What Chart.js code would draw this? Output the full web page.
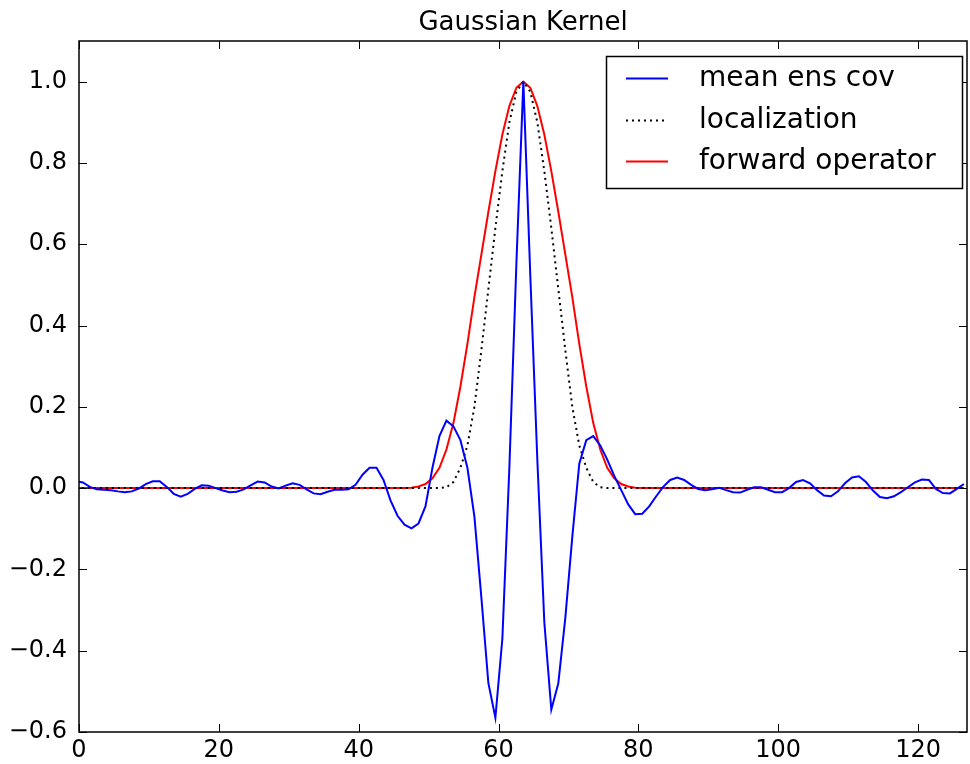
<!DOCTYPE html>
<html>
<head>
<meta charset="utf-8">
<script src="https://cdn.jsdelivr.net/npm/chart.js@4"></script>
<style>
  html, body { margin: 0; padding: 0; background: #fff; }
  #wrap { width: 970px; height: 764px; }
</style>
</head>
<body>
<div id="wrap"><canvas id="kernelChart" width="970" height="764"></canvas></div>
<script>
// values, one per grid index 0..127
const meanEnsCov = [
  0.017, 0.014, 0.003, -0.003, -0.004, -0.005, -0.008, -0.010, -0.008, -0.001,
  0.010, 0.017, 0.017, 0.003, -0.014, -0.021, -0.014, -0.002, 0.007, 0.006,
  0.000, -0.006, -0.010, -0.009, -0.003, 0.007, 0.016, 0.014, 0.004, -0.001,
  0.006, 0.012, 0.008, -0.003, -0.013, -0.015, -0.009, -0.004, -0.004, -0.003,
  0.008, 0.033, 0.050, 0.050, 0.020, -0.030, -0.068, -0.090, -0.099, -0.087,
  -0.045, 0.050, 0.128, 0.166, 0.152, 0.118, 0.050, -0.070, -0.270, -0.480,
  -0.565, -0.370, 0.050, 0.550, 1.000, 0.520, 0.070, -0.330, -0.545, -0.480,
  -0.320, -0.120, 0.060, 0.118, 0.128, 0.105, 0.070, 0.030, -0.005, -0.040,
  -0.064, -0.063, -0.045, -0.020, 0.003, 0.020, 0.026, 0.020, 0.008, -0.002,
  -0.005, -0.003, 0.001, -0.005, -0.010, -0.011, -0.004, 0.002, 0.002, -0.004,
  -0.010, -0.010, 0.000, 0.015, 0.020, 0.012, -0.005, -0.018, -0.020, -0.008,
  0.012, 0.026, 0.029, 0.015, -0.006, -0.022, -0.025, -0.020, -0.010, 0.002,
  0.014, 0.021, 0.020, -0.002, -0.012, -0.013, -0.002, 0.010
];

// localization and forward operator are only non-zero near the centre (index 64),
// listed by distance from it
const centreIndex = 64;
const localizationHalf = [1.0, 0.975, 0.90, 0.78, 0.64, 0.49, 0.34, 0.20, 0.105, 0.05, 0.015, 0.002, 0.0];
const forwardHalf = [1.0, 0.985, 0.94, 0.87, 0.78, 0.68, 0.575, 0.47, 0.355, 0.25, 0.16, 0.095, 0.05, 0.024, 0.01, 0.004, 0.001, 0.0];

const xTicks = [0, 20, 40, 60, 80, 100, 120];
const yTicks = [-0.6, -0.4, -0.2, 0.0, 0.2, 0.4, 0.6, 0.8, 1.0];
const seriesNames = ["mean ens cov", "localization", "forward operator"];

// sample i sits at x = i + gridStart on the axis (peak reads at ~63.55)
const gridStart = -0.45;

function spread(half) {
  return meanEnsCov.map((_, i) => {
    const d = Math.abs(i - centreIndex);
    return { x: i + gridStart, y: d < half.length ? half[d] : 0 };
  });
}

const blueData = meanEnsCov.map((v, i) => ({ x: i + gridStart, y: v }));
const locData = spread(localizationHalf);
const fwdData = spread(forwardHalf);

const FONT = "'DejaVu Sans', sans-serif";

// frame, inward ticks on all four sides, title and boxed legend
const matplotlibLook = {
  id: 'matplotlibLook',
  afterDatasetsDraw(chart) {
    const { ctx, chartArea: a, scales } = chart;
    ctx.save();
    ctx.strokeStyle = '#000';
    ctx.lineWidth = 1.5;
    ctx.strokeRect(a.left, a.top, a.right - a.left, a.bottom - a.top);

    ctx.lineWidth = 1;
    ctx.beginPath();
    xTicks.forEach(t => {
      const px = Math.round(scales.x.getPixelForValue(t)) + 0.5;
      ctx.moveTo(px, a.bottom); ctx.lineTo(px, a.bottom - 8);
      ctx.moveTo(px, a.top); ctx.lineTo(px, a.top + 8);
    });
    yTicks.forEach(t => {
      const py = Math.round(scales.y.getPixelForValue(t)) + 0.5;
      ctx.moveTo(a.left, py); ctx.lineTo(a.left + 8, py);
      ctx.moveTo(a.right, py); ctx.lineTo(a.right - 8, py);
    });
    ctx.stroke();

    // title
    ctx.fillStyle = '#000';
    ctx.font = '26px ' + FONT;
    ctx.textAlign = 'center';
    ctx.textBaseline = 'alphabetic';
    ctx.fillText('Gaussian Kernel', (a.left + a.right) / 2, 30);

    // legend
    const box = { x: 606.5, y: 56.5, w: 356, h: 132 };
    ctx.fillStyle = '#fff';
    ctx.fillRect(box.x, box.y, box.w, box.h);
    ctx.strokeStyle = '#000';
    ctx.lineWidth = 1.5;
    ctx.strokeRect(box.x, box.y, box.w, box.h);
    const rows = [78, 120, 161];
    chart.data.datasets.forEach((ds, k) => {
      ctx.beginPath();
      ctx.strokeStyle = ds.borderColor;
      ctx.lineWidth = ds.borderWidth;
      ctx.setLineDash(ds.borderDash || []);
      ctx.moveTo(626, rows[k] + 0.5);
      ctx.lineTo(668, rows[k] + 0.5);
      ctx.stroke();
      ctx.setLineDash([]);
      ctx.fillStyle = '#000';
      ctx.font = '28px ' + FONT;
      ctx.textAlign = 'left';
      ctx.textBaseline = 'middle';
      ctx.fillText(ds.label, 699, rows[k] + 1);
    });
    ctx.restore();
  }
};

const ctx = document.getElementById('kernelChart').getContext('2d');
new Chart(ctx, {
  type: 'line',
  data: {
    datasets: [
      { label: seriesNames[0], data: blueData, borderColor: '#0000ff', borderWidth: 2, pointRadius: 0, tension: 0 },
      { label: seriesNames[1], data: locData, borderColor: '#000000', borderWidth: 2, borderDash: [2, 4], pointRadius: 0, tension: 0 },
      { label: seriesNames[2], data: fwdData, borderColor: '#ff0000', borderWidth: 2, pointRadius: 0, tension: 0 }
    ]
  },
  options: {
    responsive: false,
    animation: false,
    events: [],
    layout: { padding: { top: 41, right: 3, left: 0, bottom: 0 } },
    plugins: { legend: { display: false }, tooltip: { enabled: false }, title: { display: false } },
    scales: {
      x: {
        type: 'linear',
        min: 0,
        max: 127,
        grid: { display: false, drawTicks: false },
        border: { display: false },
        afterBuildTicks: s => { s.ticks = xTicks.map(v => ({ value: v })); },
        afterFit: s => { s.height = 32; },
        ticks: { color: '#000', font: { family: FONT, size: 24 }, padding: 4, maxRotation: 0, autoSkip: false }
      },
      y: {
        type: 'linear',
        min: -0.6,
        max: 1.1,
        grid: { display: false, drawTicks: false },
        border: { display: false },
        afterBuildTicks: s => { s.ticks = yTicks.map(v => ({ value: v })); },
        afterFit: s => { s.width = 79; },
        ticks: {
          color: '#000',
          font: { family: FONT, size: 24 },
          padding: 12,
          callback: v => (v < -1e-9 ? '\u2212' : '') + Math.abs(v).toFixed(1)
        }
      }
    }
  },
  plugins: [matplotlibLook]
});
</script>
</body>
</html>
